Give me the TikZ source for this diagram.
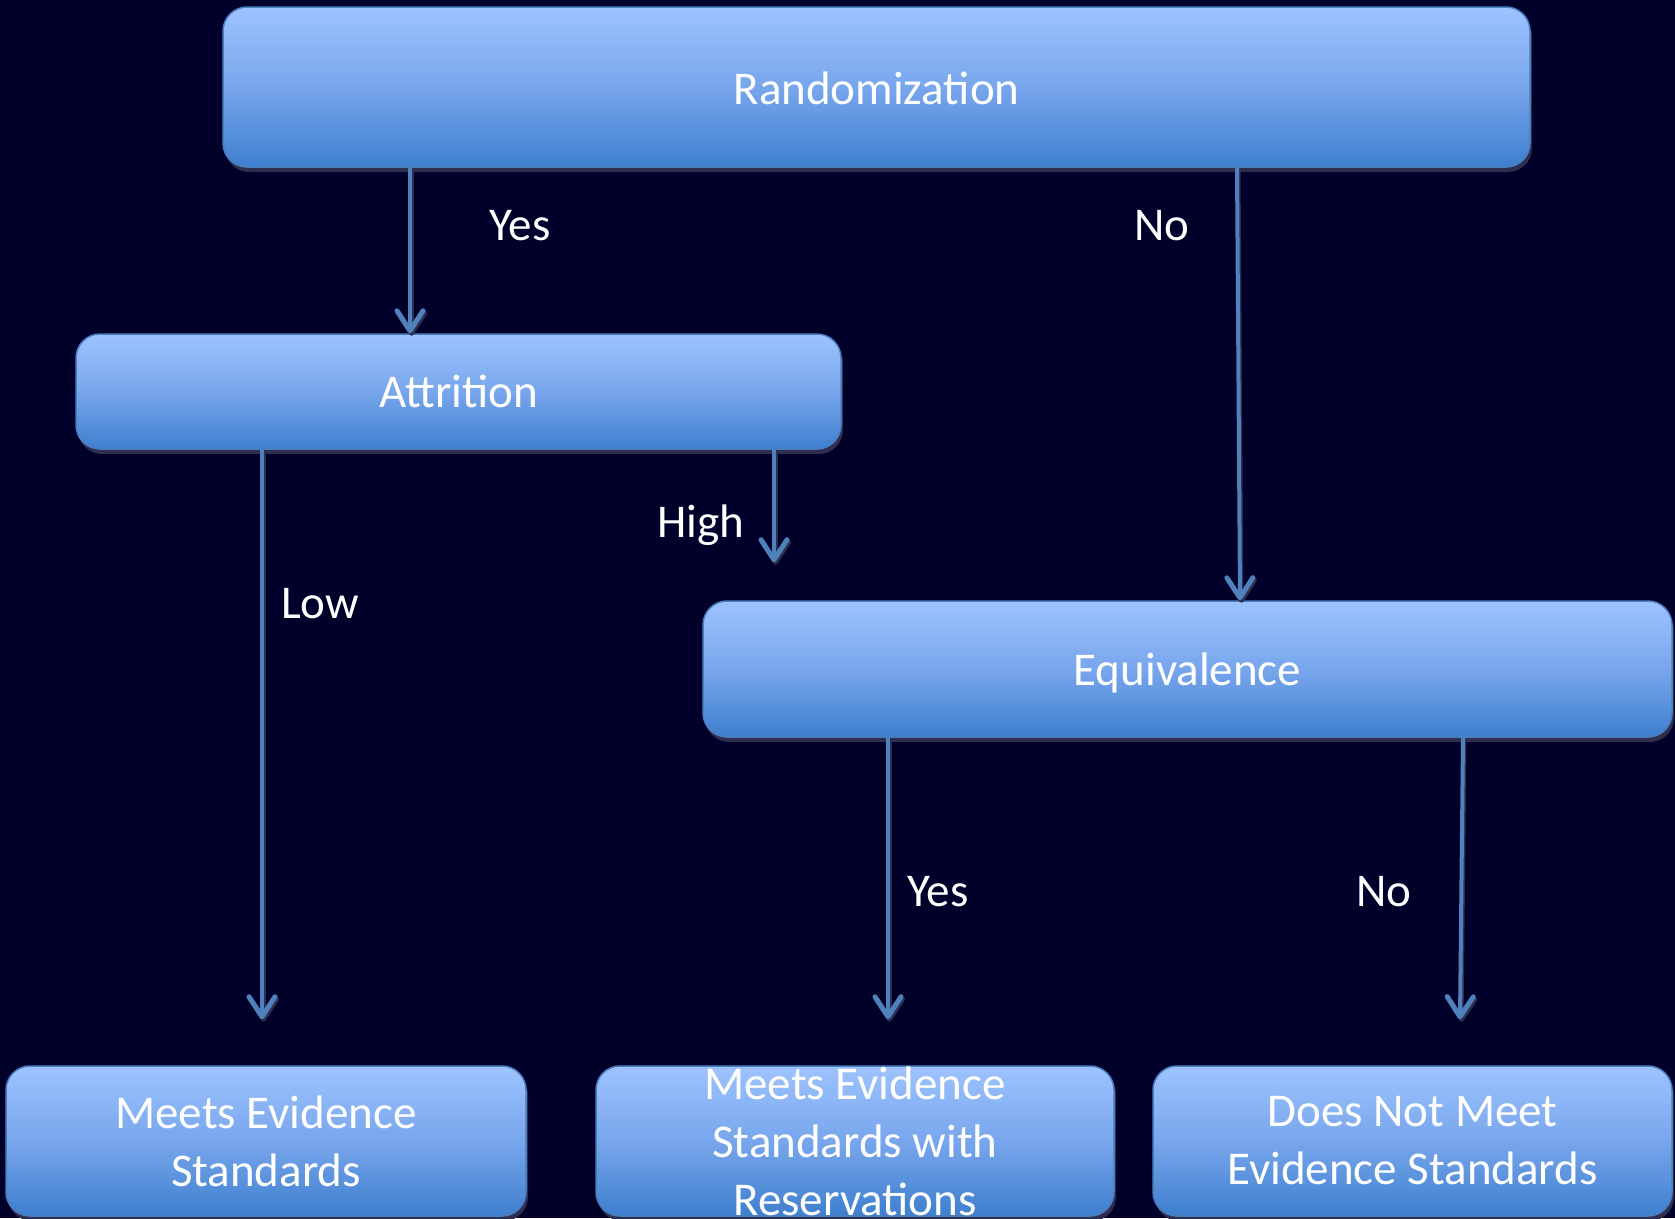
\documentclass[tikz,border=0pt]{standalone}
\usepackage{fontspec}
\setmainfont{Carlito}
\usetikzlibrary{arrows.meta,shadows}
\definecolor{bg}{HTML}{00002A}
\definecolor{boxtop}{HTML}{9DC3FF}
\definecolor{boxmid}{HTML}{78A6EC}
\definecolor{boxbot}{HTML}{3E7FCE}
\definecolor{boxline}{HTML}{4A7EBF}
\definecolor{arrcol}{HTML}{4F81BD}
\definecolor{shadowcol}{HTML}{2E2E4E}
\tikzset{
  flowbox/.style={rounded corners=24pt, draw=boxline, line width=1.5pt,
    top color=boxtop, bottom color=boxbot, middle color=boxmid,
    drop shadow={shadow xshift=2pt, shadow yshift=-5pt, fill=shadowcol, opacity=1},
    text=white, align=center, inner sep=0pt,
    font=\fontsize{47}{58}\selectfont},
  boxtext/.style={text=white, align=center, inner sep=0pt, font=\fontsize{47}{58}\selectfont},
  arr/.style={draw=arrcol, line width=4pt,
    -{Straight Barb[length=20pt,width=26pt,line width=5pt,round]},
    preaction={draw=shadowcol, line width=4pt, transform canvas={xshift=1.5pt,yshift=-2.5pt},
      -{Straight Barb[length=20pt,width=26pt,line width=5pt,round]}}},
  elabel/.style={text=white, inner sep=0pt, font=\fontsize{47}{58}\selectfont}
}
\begin{document}
\begin{tikzpicture}[x=1pt,y=1pt]
\fill[bg] (0,0) rectangle (1675,-1218);
\useasboundingbox (0,0) rectangle (1675,-1218);

\coordinate (cyes) at (410,0);
\coordinate (cnoa) at (1237,0);
\coordinate (cnob) at (1240,0);
\coordinate (clow) at (262,0);
\coordinate (chigh) at (774,0);
\coordinate (cyes2) at (888,0);
\coordinate (cno2a) at (1463,0);
\coordinate (cno2b) at (1460,0);

\node[flowbox, minimum width=1307pt, minimum height=160pt] (rand) at (876.5,-87) {};
\node[flowbox, minimum width=765pt, minimum height=115pt] (attr) at (458.5,-391.5) {};
\node[flowbox, minimum width=969pt, minimum height=136pt] (equiv) at (1187.5,-669) {};
\node[flowbox, minimum width=520pt, minimum height=150pt] (m1) at (266,-1141) {};
\node[flowbox, minimum width=518pt, minimum height=150pt] (m2) at (855,-1141) {};
\node[flowbox, minimum width=519pt, minimum height=150pt] (m3) at (1412.5,-1141) {};

\draw[arr] (rand.south -| cyes) -- (attr.north -| cyes);
\draw[arr] (rand.south -| cnoa) -- (equiv.north -| cnob);
\draw[arr] (attr.south -| clow) -- ([yshift=46pt]m1.north -| clow);
\draw[arr] (attr.south -| chigh) -- ([yshift=38pt]equiv.north -| chigh);
\draw[arr] (equiv.south -| cyes2) -- ([yshift=46pt]m2.north -| cyes2);
\draw[arr] (equiv.south -| cno2a) -- ([yshift=46pt]m3.north -| cno2b);

\node[boxtext] (randtext) at (876.5,-88) {Randomization};
\node[boxtext] (attrtext) at (458.5,-391.5) {Attrition};
\node[boxtext] (equivtext) at (1187.5,-673) {Equivalence};
\node[boxtext] (m1text) at (266,-1141) {Meets Evidence\\Standards};
\node[boxtext] (m2text) at (855,-1141) {Meets Evidence\\Standards with\\Reservations};
\node[boxtext] (m3text) at (1412.5,-1141) {Does Not Meet\\Evidence Standards};

\node[elabel] (lyes) at (520,-226) {Yes};
\node[elabel] (lno) at (1162,-226) {No};
\node[elabel] (lhigh) at (701,-525) {High};
\node[elabel] (llow) at (320,-604) {Low};
\node[elabel] (lyes2) at (938,-892) {Yes};
\node[elabel] (lno2) at (1384,-892) {No};
\end{tikzpicture}
\end{document}
